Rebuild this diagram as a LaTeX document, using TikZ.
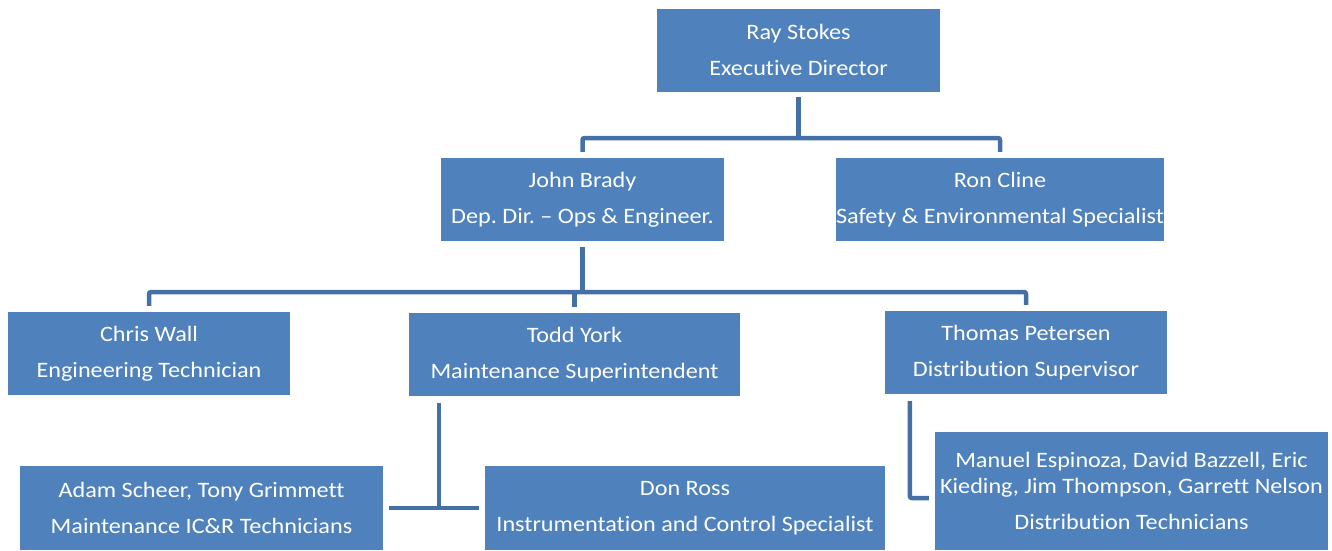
\documentclass[tikz,border=0pt]{standalone}
\usepackage{fontspec}
\setmainfont[FakeStretch=1.1, RawFeature=-liga]{Carlito}
\usetikzlibrary{calc}
\frenchspacing
\definecolor{boxblue}{HTML}{4F81BD}
\definecolor{lineblue}{RGB}{69,112,165}
\tikzset{
  orgbox/.style={rectangle, fill=boxblue, draw=none, inner sep=0pt, text=white, align=center,
    font=\fontsize{22}{26}\selectfont\frenchspacing},
  conn/.style={draw=lineblue, line width=4.5pt, rounded corners=2pt}
}
\begin{document}
\begin{tikzpicture}[x=1pt,y=-1pt]
\useasboundingbox (0,0) rectangle (1332,550);
\node[orgbox, minimum width=283pt, minimum height=83pt] (ray) at (798.5,50) {Ray Stokes\\[10pt]Executive Director};
\node[orgbox, minimum width=283pt, minimum height=83pt] (john) at (582.5,199.5) {John Brady\\[10pt]Dep. Dir. – Ops \& Engineer.};
\node[orgbox, minimum width=328pt, minimum height=83pt] (ron) at (1000,199.5) {Ron Cline\\[10pt]Safety \& Environmental Specialist};
\node[orgbox, minimum width=282pt, minimum height=83pt] (chris) at (149,353.5) {Chris Wall\\[10pt]Engineering Technician};
\node[orgbox, minimum width=331pt, minimum height=83pt] (todd) at (574.5,354.5) {Todd York\\[10pt]Maintenance Superintendent};
\node[orgbox, minimum width=282pt, minimum height=83pt] (thomas) at (1026,352.5) {Thomas Petersen\\[10pt]Distribution Supervisor};
\node[orgbox, minimum width=363pt, minimum height=84pt] (adam) at (201.5,508) {Adam Scheer, Tony Grimmett\\[10pt]Maintenance IC\&R Technicians};
\node[orgbox, minimum width=400pt, minimum height=84pt] (don) at (685,508) {Don Ross\\[10pt]Instrumentation and Control Specialist};
\node[orgbox, minimum width=393pt, minimum height=118pt] (manuel) at (1131.5,491) {Manuel Espinoza, David Bazzell, Eric\\Kieding, Jim Thompson, Garrett Nelson\\[10pt]Distribution Technicians};

\coordinate (busA) at (0,138);
\coordinate (busB) at (0,292);
\draw[conn] ([yshift=-5pt]ray.south) -- (ray.south |- busA);
\draw[conn] ([yshift=6pt]john.north) -- (john.north |- busA) -- (ron.north |- busA) -- ([yshift=6pt]ron.north);
\draw[conn] ([yshift=-6pt]john.south) -- (john.south |- busB);
\draw[conn] ([yshift=6pt]chris.north) -- (chris.north |- busB) -- (thomas.north |- busB) -- ([yshift=6pt]thomas.north);
\draw[conn] ([yshift=6pt]todd.north) -- (todd.north |- busB);
\coordinate (tdrop) at ([xshift=30pt,yshift=-7pt]todd.south west);
\draw[conn] (tdrop) -- (tdrop |- adam.east);
\draw[conn] ([xshift=6pt]adam.east) -- ([xshift=-6pt]don.west);
\coordinate (pdrop) at ([xshift=25pt,yshift=-7pt]thomas.south west);
\draw[conn] (pdrop) |- ([xshift=-6pt,yshift=-7pt]manuel.west);
\end{tikzpicture}
\end{document}
